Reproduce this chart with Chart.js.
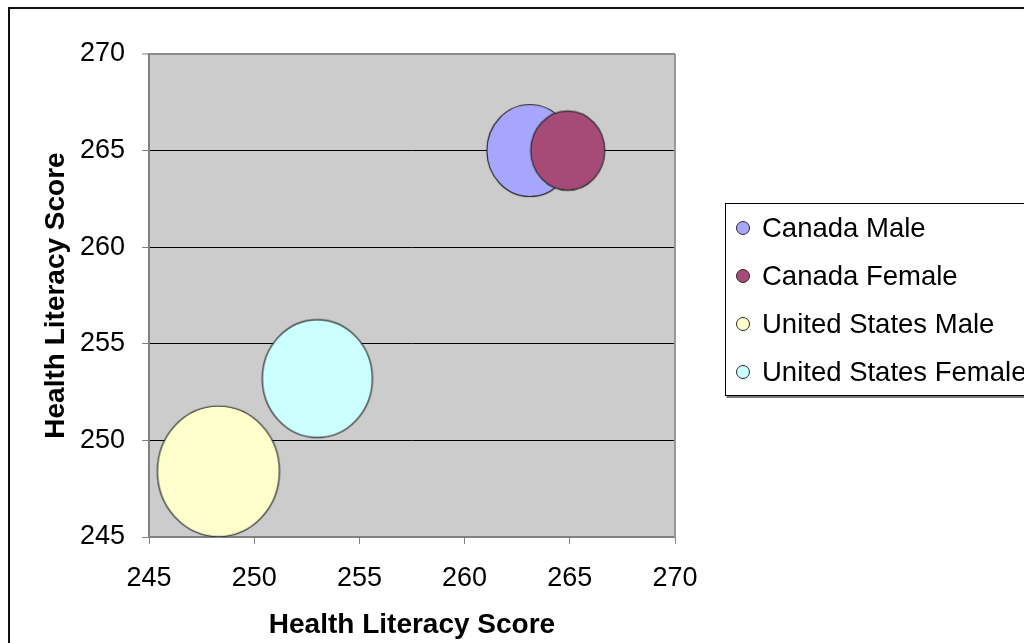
<!DOCTYPE html>
<html>
<head>
<meta charset="utf-8">
<script src="https://cdn.jsdelivr.net/npm/chart.js@4/dist/chart.umd.min.js"></script>
<style>
  html, body { margin: 0; padding: 0; background: #ffffff; overflow: hidden; }
  canvas { display: block; }
</style>
</head>
<body>
<canvas id="chart" width="1024" height="643"></canvas>
<script>
// Health literacy scores by country and sex
const seriesNames = ['Canada Male', 'Canada Female', 'United States Male', 'United States Female'];
const xScores = [263.1, 264.9, 248.3, 253.0];
const yScores = [265.0, 265.0, 248.4, 253.2];
const bubbleSizes = [43, 37, 61, 55];
const fillColors = ['#a6a6ff', '#a64b78', '#ffffcc', '#ccffff'];
const axisTicks = [245, 250, 255, 260, 265, 270];
const axisTitle = 'Health Literacy Score';

const FONT = "'Liberation Sans', Arial, Helvetica, sans-serif";
const PLOT_BG = '#cccccc';
const AXIS_GREY = '#808080';
const OUTLINE = '#2b2b2b';

// Bubbles are drawn as slightly tall ovals, rendered into small canvases
const ovalCache = {};
function ovalImage(r, fill) {
  const key = r + fill;
  if (ovalCache[key]) return ovalCache[key];
  const rx = r, ry = r * 1.07;
  const c = document.createElement('canvas');
  c.width = Math.ceil(rx * 2 + 4);
  c.height = Math.ceil(ry * 2 + 4);
  const g = c.getContext('2d');
  g.beginPath();
  g.ellipse(c.width / 2, c.height / 2, rx, ry, 0, 0, Math.PI * 2);
  g.fillStyle = fill;
  g.fill();
  g.lineWidth = 1.2;
  g.strokeStyle = OUTLINE;
  g.stroke();
  ovalCache[key] = c;
  return c;
}

const datasets = seriesNames.map((name, i) => ({
  label: name,
  data: [{ x: xScores[i], y: yScores[i], r: bubbleSizes[i] }],
  backgroundColor: fillColors[i],
  borderColor: OUTLINE,
  borderWidth: 1,
  order: seriesNames.length - i,
  pointStyle: (ctx) => ovalImage(ctx.raw ? ctx.raw.r : bubbleSizes[i], fillColors[i])
}));

// Page background, chart frame and grey plot area
const framePlugin = {
  id: 'frame',
  beforeDraw(chart) {
    const { ctx, chartArea: a } = chart;
    ctx.save();
    ctx.fillStyle = '#ffffff';
    ctx.fillRect(0, 0, chart.width, chart.height);
    ctx.fillStyle = PLOT_BG;
    ctx.fillRect(a.left, a.top, a.right - a.left, a.bottom - a.top);
    ctx.strokeStyle = '#111111';
    ctx.lineWidth = 2;
    ctx.beginPath();
    ctx.moveTo(9, chart.height);
    ctx.lineTo(9, 8);
    ctx.lineTo(chart.width, 8);
    ctx.stroke();
    ctx.restore();
  },
  afterDraw(chart) {
    const { ctx, chartArea: a } = chart;
    ctx.save();
    // right edge of the plot area
    ctx.strokeStyle = '#999999';
    ctx.lineWidth = 2;
    ctx.beginPath();
    ctx.moveTo(a.right, a.top);
    ctx.lineTo(a.right, a.bottom);
    ctx.stroke();

    // legend box
    const boxL = 725.5, boxT = 203.5, boxB = 395.5;
    ctx.fillStyle = '#ffffff';
    ctx.fillRect(boxL, boxT, chart.width, boxB - boxT);
    ctx.strokeStyle = '#000000';
    ctx.lineWidth = 1;
    ctx.strokeRect(boxL, boxT, chart.width, boxB - boxT);
    ctx.strokeStyle = '#7a7a7a';
    ctx.lineWidth = 2;
    ctx.beginPath();
    ctx.moveTo(boxL + 1, boxB + 1.5);
    ctx.lineTo(chart.width, boxB + 1.5);
    ctx.stroke();

    ctx.font = '27.5px ' + FONT;
    ctx.textBaseline = 'middle';
    ctx.textAlign = 'left';
    chart.data.datasets.forEach((ds, i) => {
      const cy = 228 + i * 48;
      ctx.beginPath();
      ctx.arc(743, cy, 6.5, 0, Math.PI * 2);
      ctx.fillStyle = ds.backgroundColor;
      ctx.fill();
      ctx.strokeStyle = OUTLINE;
      ctx.lineWidth = 1;
      ctx.stroke();
      ctx.fillStyle = '#000000';
      ctx.fillText(ds.label, 762, cy + 1);
    });
    ctx.restore();
  }
};

const tickFont = { family: FONT, size: 27 };
const titleFont = { family: FONT, size: 28, weight: 'bold' };

new Chart(document.getElementById('chart'), {
  type: 'bubble',
  data: { datasets },
  plugins: [framePlugin],
  options: {
    responsive: false,
    devicePixelRatio: 1,
    animation: false,
    events: [],
    layout: { autoPadding: false, padding: { left: 0, top: 54, right: 349, bottom: 0 } },
    plugins: {
      legend: { display: false },
      tooltip: { enabled: false }
    },
    scales: {
      x: {
        type: 'linear',
        min: axisTicks[0],
        max: axisTicks[axisTicks.length - 1],
        afterBuildTicks: (s) => { s.ticks = axisTicks.map(v => ({ value: v })); },
        afterFit: (s) => { s.height = 106; s.paddingLeft = 0; s.paddingRight = 0; },
        ticks: { font: tickFont, color: '#000000', padding: 18, maxRotation: 0 },
        grid: {
          drawOnChartArea: false,
          drawTicks: true,
          tickLength: 7,
          tickColor: AXIS_GREY,
          tickWidth: 1
        },
        border: { display: true, color: AXIS_GREY, width: 2 },
        title: {
          display: true,
          text: axisTitle,
          font: titleFont,
          color: '#000000',
          padding: { top: 0, bottom: 1 }
        }
      },
      y: {
        type: 'linear',
        min: axisTicks[0],
        max: axisTicks[axisTicks.length - 1],
        afterBuildTicks: (s) => { s.ticks = axisTicks.map(v => ({ value: v })); },
        afterFit: (s) => { s.width = 149; s.paddingTop = 0; s.paddingBottom = 0; },
        ticks: { font: tickFont, color: '#000000', padding: 17 },
        grid: {
          drawTicks: true,
          tickLength: 7,
          tickColor: AXIS_GREY,
          tickWidth: 1,
          color: (ctx) => {
            const v = ctx.tick && ctx.tick.value;
            if (v === axisTicks[axisTicks.length - 1]) return '#8c8c8c';
            if (v === axisTicks[0]) return 'rgba(0,0,0,0)';
            return '#000000';
          },
          lineWidth: (ctx) => (ctx.tick && ctx.tick.value === axisTicks[axisTicks.length - 1]) ? 2 : 1
        },
        border: { display: true, color: AXIS_GREY, width: 2 },
        title: {
          display: true,
          text: axisTitle,
          font: titleFont,
          color: '#000000',
          padding: { top: 39, bottom: 0 }
        }
      }
    }
  }
});
</script>
</body>
</html>
